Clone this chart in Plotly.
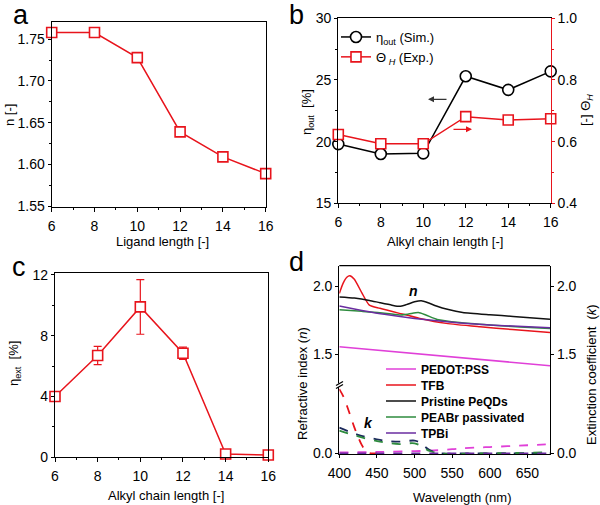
import plotly.graph_objects as go

# ---------------- data ----------------
# panel a
lig_len = [6, 8, 10, 12, 14, 16]
n_vals = [1.758, 1.758, 1.728, 1.639, 1.609, 1.589]

# panel b
alkyl_b = [6, 8, 10, 12, 14, 16]
eta_out = [19.8, 19.0, 19.05, 25.3, 24.2, 25.7]
theta_h = [0.623, 0.593, 0.593, 0.681, 0.670, 0.674]

# panel c
alkyl_c = [6, 8, 10, 12, 14, 16]
eta_ext = [4.0, 6.7, 9.9, 6.85, 0.22, 0.15]
eta_ext_err = [0.3, 0.6, 1.8, 0.4, 0.0, 0.0]

# panel d : refractive index n
wl_pedot_n = [400, 680]
n_pedot = [1.556, 1.417]
wl_tfb_n = [400, 405, 410, 414, 420, 430, 440, 454, 480, 507, 542, 587, 630, 680]
n_tfb = [1.946, 2.020, 2.065, 2.076, 2.050, 1.950, 1.860, 1.837, 1.800, 1.763, 1.727, 1.702, 1.682, 1.660]
wl_pris_n = [400, 420, 440, 454, 470, 480, 489, 500, 509, 518, 529, 545, 564, 600, 631, 680]
n_pris = [1.920, 1.912, 1.895, 1.878, 1.860, 1.852, 1.864, 1.885, 1.893, 1.878, 1.854, 1.828, 1.807, 1.790, 1.778, 1.757]
wl_peabr_n = [400, 430, 454, 480, 492, 505, 515, 530, 560, 600, 640, 680]
n_peabr = [1.826, 1.815, 1.805, 1.788, 1.795, 1.806, 1.788, 1.756, 1.733, 1.715, 1.701, 1.690]
wl_tpbi_n = [400, 430, 460, 500, 540, 580, 630, 680]
n_tpbi = [1.854, 1.822, 1.793, 1.763, 1.740, 1.722, 1.707, 1.695]

# panel d : extinction coefficient k
wl_pedot_k = [400, 450, 500, 520, 550, 564, 600, 650, 680]
k_pedot = [0.007, 0.010, 0.016, 0.019, 0.030, 0.037, 0.046, 0.059, 0.066]
wl_tfb_k = [400, 405, 410, 415, 420, 425, 430, 435, 440, 450]
k_tfb = [0.470, 0.420, 0.350, 0.270, 0.190, 0.120, 0.060, 0.020, 0.002, 0.0]
wl_pris_k = [400, 423, 454, 480, 500, 507, 520, 534, 560, 620, 680]
k_pris = [0.188, 0.139, 0.098, 0.085, 0.093, 0.078, 0.024, 0.0, 0.0, 0.0, 0.002]
wl_peabr_k = [400, 423, 454, 480, 500, 510, 520, 535, 600, 680]
k_peabr = [0.166, 0.127, 0.085, 0.068, 0.073, 0.049, 0.017, 0.0, 0.0, 0.007]
wl_tpbi_k = [400, 680]
k_tpbi = [0.0, 0.0]

# tick labels
d_upper_ticks = [1.5, 2.0]
d_lower_ticks = [0.0]

# ---------------- style ----------------
W, H = 600, 505
RED = "#e8141c"
FONT = "Arial, Liberation Sans, sans-serif"
MAG = "#e040d8"
GRN = "#2e8b3e"
PUR = "#6a2ca0"
NAVY = "#1c2a5c"


def px(x):
    return x / W


def py(y):
    return 1 - y / H


fig = go.Figure()

# panel a
fig.add_trace(go.Scatter(x=lig_len, y=n_vals, mode="lines+markers", xaxis="x", yaxis="y",
                         line=dict(color=RED, width=1.5),
                         marker=dict(symbol="square", size=10, color="white", line=dict(color=RED, width=1.6)),
                         cliponaxis=False, showlegend=False))

# panel b
fig.add_trace(go.Scatter(x=alkyl_b, y=eta_out, mode="lines+markers", xaxis="x2", yaxis="y2",
                         name="η<sub>out</sub> (Sim.)", legend="legend",
                         line=dict(color="black", width=1.5),
                         marker=dict(symbol="circle", size=11, color="white", line=dict(color="black", width=1.6)),
                         cliponaxis=False))
fig.add_trace(go.Scatter(x=alkyl_b, y=theta_h, mode="lines+markers", xaxis="x2", yaxis="y3",
                         name="Θ<sub> <i>H</i></sub> (Exp.)", legend="legend",
                         line=dict(color=RED, width=1.5),
                         marker=dict(symbol="square", size=10, color="white", line=dict(color=RED, width=1.6)),
                         cliponaxis=False))

# panel c
fig.add_trace(go.Scatter(x=alkyl_c, y=eta_ext, mode="lines+markers", xaxis="x3", yaxis="y4",
                         error_y=dict(type="data", array=eta_ext_err, color=RED, thickness=1.2, width=4),
                         line=dict(color=RED, width=1.5),
                         marker=dict(symbol="square", size=10, color="white", line=dict(color=RED, width=1.6)),
                         cliponaxis=False, showlegend=False))

# panel d: k (dashed, lower part); TPBi drawn on the right-hand twin axis (same range)
for wl, kv, col, ax in [(wl_pedot_k, k_pedot, MAG, "y6"), (wl_tfb_k, k_tfb, RED, "y6"),
                        (wl_pris_k, k_pris, NAVY, "y6"), (wl_peabr_k, k_peabr, GRN, "y6"),
                        (wl_tpbi_k, k_tpbi, PUR, "y8")]:
    fig.add_trace(go.Scatter(x=wl, y=kv, mode="lines", xaxis="x4", yaxis=ax,
                             line=dict(color=col, width=1.8, dash="dash", shape="spline"),
                             showlegend=False))

# panel d: n (solid, upper part) – one legend box per row for exact spacing
for i, (wl, nv, col, name, ax) in enumerate([
        (wl_pedot_n, n_pedot, MAG, "PEDOT:PSS", "y5"), (wl_tfb_n, n_tfb, RED, "TFB", "y5"),
        (wl_pris_n, n_pris, "#111111", "Pristine PeQDs", "y5"),
        (wl_peabr_n, n_peabr, GRN, "PEABr passivated", "y5"), (wl_tpbi_n, n_tpbi, PUR, "TPBi", "y7")]):
    fig.add_trace(go.Scatter(x=wl, y=nv, mode="lines", xaxis="x4", yaxis=ax, name=name,
                             legend="legend%d" % (i + 2),
                             line=dict(color=col, width=1.5, shape="spline", smoothing=0.6)))

tickfont = dict(family=FONT, size=14, color="black")
common_x = dict(showline=True, linecolor="black", linewidth=1.2, ticks="outside", ticklen=4,
                tickcolor="black", tickfont=tickfont, showgrid=False, zeroline=False, automargin=False,
                ticklabelstandoff=2,
                range=[6, 16], tickvals=[6, 8, 10, 12, 14, 16],
                minor=dict(ticks="outside", ticklen=2, tickcolor="black", dtick=1, showgrid=False))
common_y = dict(showline=True, linecolor="black", linewidth=1.2, ticks="outside", ticklen=3,
                tickcolor="black", tickfont=tickfont, showgrid=False, zeroline=False, automargin=False)

legend_rows = [369, 385, 401, 417, 433]
legends = {}
for i, yrow in enumerate(legend_rows):
    legends["legend%d" % (i + 2)] = dict(
        x=px(381), y=py(yrow), xanchor="left", yanchor="middle", bgcolor="rgba(0,0,0,0)",
        font=dict(family=FONT, size=12, weight="bold", color="black"), itemwidth=30)

fig.update_layout(
    width=W, height=H, margin=dict(l=0, r=0, t=0, b=0, pad=0, autoexpand=False),
    paper_bgcolor="white", plot_bgcolor="rgba(0,0,0,0)",
    font=dict(family=FONT, size=14, color="black"),
    # a
    xaxis=dict(common_x, domain=[px(51.7), px(265.7)], anchor="y", mirror=True),
    yaxis=dict(common_y, domain=[py(207), py(21.7)], anchor="x", range=[1.549, 1.771],
               tickvals=[1.55, 1.60, 1.65, 1.70, 1.75], tickformat=".2f", mirror=True,
               minor=dict(ticks="outside", ticklen=2, tickcolor="black", dtick=0.025, tick0=1.55)),
    # b
    xaxis2=dict(common_x, domain=[px(338.3), px(550.7)], anchor="y2", mirror=True),
    yaxis2=dict(common_y, domain=[py(203.3), py(18.3)], anchor="x2", range=[15, 30],
                tickvals=[15, 20, 25, 30],
                minor=dict(ticks="outside", ticklen=2, tickcolor="black", dtick=2.5, tick0=15)),
    yaxis3=dict(common_y, overlaying="y2", side="right", anchor="x2", range=[0.4, 1.0],
                tickvals=[0.4, 0.6, 0.8, 1.0], tickformat=".1f", linecolor=RED, tickcolor=RED,
                minor=dict(ticks="outside", ticklen=2, tickcolor=RED, dtick=0.1, tick0=0.4)),
    # c
    xaxis3=dict(common_x, domain=[px(55), px(268.3)], anchor="y4", mirror=True),
    yaxis4=dict(common_y, domain=[py(457.3), py(272.7)], anchor="x3", range=[0, 12.15],
                tickvals=[0, 4, 8, 12], mirror=True,
                minor=dict(ticks="outside", ticklen=2, tickcolor="black", dtick=2, tick0=0)),
    # d
    xaxis4=dict(showline=True, linecolor="black", linewidth=1.2, ticks="outside", ticklen=3,
                tickcolor="black", tickfont=tickfont, showgrid=False, zeroline=False, automargin=False,
                ticklabelstandoff=3,
                domain=[px(339.3), px(550)], anchor="y6", range=[400, 680],
                tickvals=[400, 450, 500, 550, 600, 650]),
    yaxis5=dict(common_y, domain=[py(385), py(265.7)], anchor="x4", range=[1.276, 2.149],
                tickvals=d_upper_ticks, tickformat=".1f"),
    yaxis6=dict(common_y, domain=[py(454), py(385)], anchor="x4", range=[-0.005, 0.5],
                tickvals=d_lower_ticks, tickformat=".1f"),
    yaxis7=dict(common_y, overlaying="y5", side="right", anchor="x4", range=[1.276, 2.149],
                tickvals=d_upper_ticks, tickformat=".1f"),
    yaxis8=dict(common_y, overlaying="y6", side="right", anchor="x4", range=[-0.005, 0.5],
                tickvals=d_lower_ticks, tickformat=".1f"),
    legend=dict(x=px(336), y=py(22), xanchor="left", yanchor="top", bgcolor="rgba(0,0,0,0)",
                font=dict(family=FONT, size=13), itemwidth=30, tracegroupgap=0),
    **legends,
)

ann = []


def text(x, y, t, size=13, angle=0, **kw):
    ann.append(dict(x=px(x), y=py(y), xref="paper", yref="paper", text=t, showarrow=False,
                    textangle=angle, font=dict(family=FONT, size=size, color=kw.pop("color", "black")),
                    xanchor="center", yanchor="middle", **kw))


# panel letters
text(21, 15, "a", size=27)
text(296, 15, "b", size=27)
text(19, 267, "c", size=27)
text(296, 262, "d", size=27)
# axis titles
text(162, 241, "Ligand length [-]")
text(10, 115, "n [-]", angle=-90)
text(445, 241, "Alkyl chain length [-]")
text(308, 112, "η<sub>out</sub>  [%]", angle=-90)
text(587, 110, "[-] Θ<sub><i>H</i></sub>", angle=-90)
text(166, 495, "Alkyl chain length [-]")
text(14, 364, "η<sub>ext</sub>  [%]", angle=-90)
text(463, 497, "Wavelength (nm)")
text(302, 384, "Refractive index (<i>n</i>)", angle=-90)
text(591, 375, "Extinction coefficient  (<i>k</i>)", angle=-90)
# n / k labels
text(413, 291, "<b><i>n</i></b>", size=14)
text(368, 423, "<b><i>k</i></b>", size=14)
# arrows in panel b
ann.append(dict(x=px(428), y=py(99.3), xref="paper", yref="paper", ax=20, ay=0, text="",
                showarrow=True, arrowhead=2, arrowsize=1, arrowwidth=1.2, arrowcolor="#333333"))
ann.append(dict(x=px(472), y=py(129.3), xref="paper", yref="paper", ax=-20, ay=0, text="",
                showarrow=True, arrowhead=2, arrowsize=1, arrowwidth=1.2, arrowcolor=RED))
fig.update_layout(annotations=ann)

# frame top of panel d and axis break marks
shapes = [
    dict(type="line", xref="paper", yref="paper", x0=px(339.3), x1=px(550), y0=py(265.7), y1=py(265.7),
         line=dict(color="black", width=1.2)),
    dict(type="rect", xref="paper", yref="paper", x0=px(337.5), x1=px(341.5), y0=py(387), y1=py(383.5),
         line=dict(width=0), fillcolor="white"),
    dict(type="line", xref="paper", yref="paper", x0=px(336), x1=px(343), y0=py(385.5), y1=py(381.5),
         line=dict(color="black", width=1.2)),
    dict(type="line", xref="paper", yref="paper", x0=px(336), x1=px(343), y0=py(388.5), y1=py(384.5),
         line=dict(color="black", width=1.2)),
]
fig.update_layout(shapes=shapes)

fig.write_html("out.html", config={"displayModeBar": False},
               post_script="document.body.style.margin='0';document.body.style.padding='0';")
